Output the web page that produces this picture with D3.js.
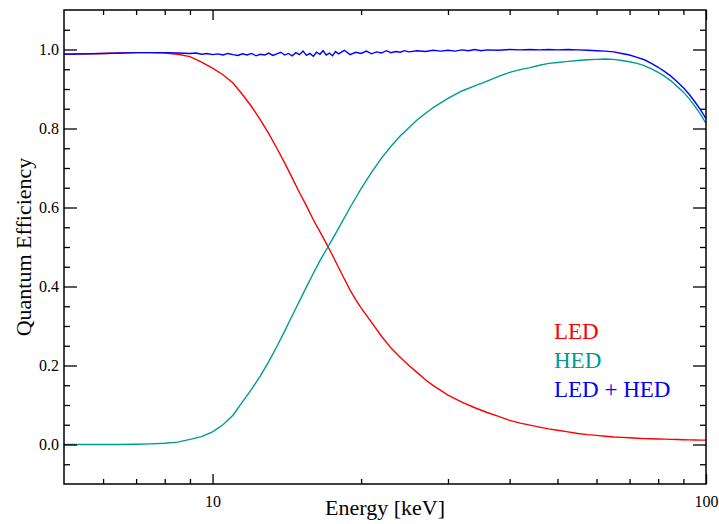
<!DOCTYPE html>
<html lang="en">
<head>
<meta charset="utf-8">
<title>Quantum Efficiency</title>
<script src="https://cdn.jsdelivr.net/npm/d3@7"></script>
<style>
  body { margin: 0; background: #fff; }
  svg text { font-family: "Liberation Serif", "DejaVu Serif", serif; }
</style>
</head>
<body>
<script>
// energy grid (keV) for LED and HED
const energy = [5, 5.5, 6, 6.5, 7, 7.5, 8, 8.5, 9, 9.5, 10, 10.5, 11, 11.5, 12, 12.5, 13, 13.5, 14, 14.5,
  15, 15.5, 16, 16.5, 17, 17.5, 18, 18.5, 19, 19.5, 20, 21, 22, 23, 24, 25, 26, 27, 28, 29, 30,
  32, 34, 36, 38, 40, 42, 44, 46, 48, 50, 52.5, 55, 57.5, 60, 62.5, 65, 67.5, 70, 72.5, 75,
  77.5, 80, 82.5, 85, 87.5, 90, 92.5, 95, 97.5, 100];

const led = [.988, .989, .990, .991, .992, .992, .991, .988, .982, .968, .953, .936, .915, .886, .855, .822, .787, .750, .713, .675,
  .638, .604, .569, .539, .509, .479, .448, .419, .391, .367, .346, .309, .274, .244, .221, .200, .182, .164, .149, .137, .125,
  .107, .093, .081, .071, .061, .054, .049, .044, .0396, .036, .032, .028, .025, .023, .021, .019, .018, .017, .016, .015,
  .0145, .014, .0135, .013, .0125, .012, .0118, .0115, .011, .011];

const hed = [0, 0, 0, 0, .0005, .0015, .003, .006, .0129, .020, .032, .050, .074, .108, .140, .174, .210, .248, .287, .326,
  .363, .399, .433, .465, .493, .520, .547, .574, .600, .624, .648, .689, .725, .755, .781, .802, .822, .838, .853, .865, .876,
  .895, .908, .920, .932, .942, .949, .954, .960, .965, .967, .970, .972, .974, .975, .976, .975, .972, .969, .965, .959,
  .951, .942, .932, .920, .906, .892, .875, .856, .836, .813];

// finer grid for LED + HED (noisy sum)
const energyBoth = [5, 6, 7, 8, 8.5,
  9, 9.25, 9.5, 9.75, 10, 10.25, 10.5, 10.75, 11, 11.25, 11.5, 11.75, 12, 12.25, 12.5, 12.75,
  13, 13.25, 13.5, 13.75, 14, 14.25, 14.5, 14.75, 15, 15.25, 15.5, 15.75, 16, 16.25, 16.5, 16.75,
  17, 17.25, 17.5, 17.75, 18,
  18.5, 19, 19.5, 20, 20.5, 21, 21.5, 22, 22.5, 23, 23.5, 24, 24.5, 25,
  26, 27, 28, 29, 30, 31, 32, 33, 34, 35, 36,
  38, 40, 42, 44, 46, 48, 50,
  52.5, 55, 57.5, 60, 62.5, 65, 67.5, 70, 72.5, 75, 77.5, 80, 82.5, 85, 87.5, 90, 92.5, 95, 97.5, 100];

const both = [.988, .990, .992, .992, .991,
  .990, .991, .988, .990, .987, .989, .986, .990, .987, .985, .989, .986, .990, .984, .988, .986,
  .991, .985, .989, .993, .986, .990, .984, .992, .987, .996, .985, .990, .983, .993, .988, .997,
  .986, .991, .984, .995, .989,
  .998, .987, .993, .990, .996, .989, .994, .991, .997, .992, .995, .993, .997, .994,
  .997, .995, .998, .996, .998, .996, .999, .997, 1.0, .997, .999,
  .998, 1.0, .999, 1.0, .999, 1.0, .999,
  1.0, .999, .998, .997, .996, .994, .990, .986, .980, .974, .965, .955, .944, .932, .918, .903, .886, .867, .847, .825];

const seriesNames = ["LED", "HED", "LED + HED"];
const seriesColors = ["#ff0000", "#009999", "#0000ff"];
const seriesData = [d3.zip(energy, led), d3.zip(energy, hed), d3.zip(energyBoth, both)];

const xMajor = [10, 100];
const xMinor = [6, 7, 8, 9, 20, 30, 40, 50, 60, 70, 80, 90];
const yMajor = [0, 0.2, 0.4, 0.6, 0.8, 1.0];
const yMinor = [-0.05, 0.05, 0.1, 0.15, 0.25, 0.3, 0.35, 0.45, 0.5, 0.55, 0.65, 0.7, 0.75, 0.85, 0.9, 0.95, 1.05];

const width = 719, height = 524;
const pLeft = 64, pRight = 706, pTop = 10, pBottom = 484;
const serif = "'Liberation Serif', 'DejaVu Serif', serif";

const x = d3.scaleLog().domain([5, 100]).range([pLeft, pRight]);
const y = d3.scaleLinear().domain([-0.1, 1.1]).range([pBottom, pTop]);

const svg = d3.select("body").append("svg")
  .attr("width", width)
  .attr("height", height);

svg.append("defs").append("clipPath").attr("id", "plot")
  .append("rect").attr("x", pLeft).attr("y", pTop)
  .attr("width", pRight - pLeft).attr("height", pBottom - pTop);

// curves
const line = d3.line()
  .x(d => x(d[0]))
  .y(d => y(d[1]));

seriesData.forEach((pts, k) => {
  svg.append("path")
    .attr("clip-path", "url(#plot)")
    .attr("d", line(pts))
    .attr("fill", "none")
    .attr("stroke", seriesColors[k])
    .attr("stroke-width", 1.4);
});

// axes, ticks pointing inward on all four sides
function styleAxis(g) {
  g.attr("font-family", serif).attr("font-size", 16);
  g.select(".domain").remove();
  g.selectAll("line").attr("stroke", "#000").attr("stroke-width", 1.3);
  g.selectAll("text").attr("fill", "#000").style("font-size", "16px").style("font-family", serif);
}

const fmtY = d3.format(".1f");

svg.append("g").attr("transform", `translate(0,${pBottom})`)
  .call(d3.axisBottom(x).tickValues(xMajor).tickSize(-10).tickPadding(12).tickFormat(d3.format("d")))
  .call(styleAxis);
svg.append("g").attr("transform", `translate(0,${pBottom})`)
  .call(d3.axisBottom(x).tickValues(xMinor).tickSize(-5).tickFormat(""))
  .call(styleAxis);
svg.append("g").attr("transform", `translate(0,${pTop})`)
  .call(d3.axisTop(x).tickValues(xMajor).tickSize(-10).tickFormat(""))
  .call(styleAxis);
svg.append("g").attr("transform", `translate(0,${pTop})`)
  .call(d3.axisTop(x).tickValues(xMinor).tickSize(-5).tickFormat(""))
  .call(styleAxis);

svg.append("g").attr("transform", `translate(${pLeft},0)`)
  .call(d3.axisLeft(y).tickValues(yMajor).tickSize(-13).tickPadding(5).tickFormat(fmtY))
  .call(styleAxis);
svg.append("g").attr("transform", `translate(${pLeft},0)`)
  .call(d3.axisLeft(y).tickValues(yMinor).tickSize(-6).tickFormat(""))
  .call(styleAxis);
svg.append("g").attr("transform", `translate(${pRight},0)`)
  .call(d3.axisRight(y).tickValues(yMajor).tickSize(-13).tickFormat(""))
  .call(styleAxis);
svg.append("g").attr("transform", `translate(${pRight},0)`)
  .call(d3.axisRight(y).tickValues(yMinor).tickSize(-6).tickFormat(""))
  .call(styleAxis);

// frame
svg.append("rect")
  .attr("x", pLeft).attr("y", pTop)
  .attr("width", pRight - pLeft).attr("height", pBottom - pTop)
  .attr("fill", "none").attr("stroke", "#000").attr("stroke-width", 1.5);

// axis titles
svg.append("text")
  .attr("x", (pLeft + pRight) / 2)
  .attr("y", 515)
  .attr("text-anchor", "middle")
  .style("font-size", "22px")
  .text("Energy [keV]");

svg.append("text")
  .attr("transform", `translate(31,${(pTop + pBottom) / 2}) rotate(-90)`)
  .attr("text-anchor", "middle")
  .style("font-size", "22px")
  .text("Quantum Efficiency");

// legend
seriesNames.forEach((name, k) => {
  svg.append("text")
    .attr("x", 554)
    .attr("y", 339 + k * 29)
    .attr("fill", seriesColors[k])
    .style("font-size", "23px")
    .text(name);
});
</script>
</body>
</html>
